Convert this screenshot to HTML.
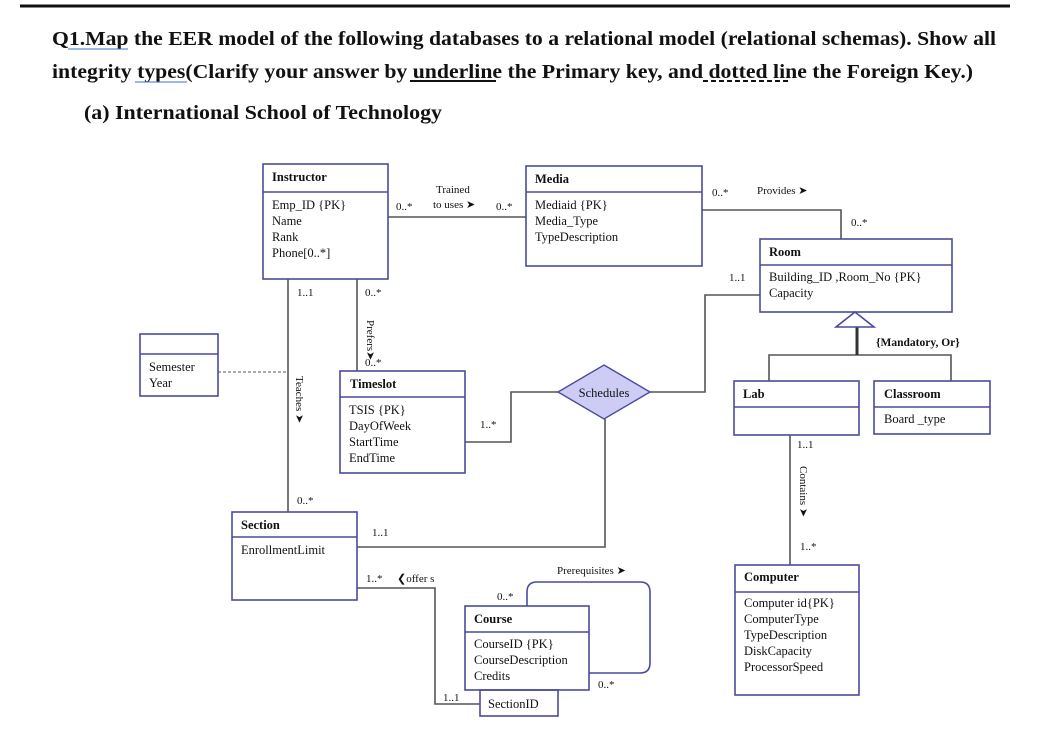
<!DOCTYPE html>
<html><head><meta charset="utf-8"><style>
html,body{margin:0;padding:0;background:#fff;}
svg{display:block;}
text{font-family:"Liberation Serif",serif;fill:#111;}
.t{font-weight:bold;font-size:20px;}
.n{font-size:12.5px;}
.b{font-size:12.5px;font-weight:bold;}
.e{fill:none;stroke:#4a4aa0;stroke-width:1.6;}
.l{fill:none;stroke:#555;stroke-width:1.6;}
</style></head><body>
<svg width="1062" height="744" viewBox="0 0 1062 744">
<line x1="20" y1="6" x2="1010" y2="6" stroke="#111" stroke-width="3"/>
<text class="t" x="52" y="45" textLength="944" lengthAdjust="spacingAndGlyphs">Q1.Map the EER model of the following databases to a relational model (relational schemas). Show all</text>
<text class="t" x="52" y="78" textLength="921" lengthAdjust="spacingAndGlyphs">integrity types(Clarify your answer by underline the Primary key, and dotted line the Foreign Key.)</text>
<line x1="68" y1="49" x2="128" y2="49" stroke="#3a6fd0" stroke-width="1"/>
<line x1="135" y1="82" x2="187" y2="82" stroke="#3a6fd0" stroke-width="1"/>
<line x1="410" y1="81" x2="496" y2="81" stroke="#111" stroke-width="2"/>
<line x1="703" y1="81" x2="791" y2="81" stroke="#111" stroke-width="2" stroke-dasharray="5,3"/>
<text class="t" x="84" y="119" textLength="358" lengthAdjust="spacingAndGlyphs">(a) International School of Technology</text>

<!-- connectors -->
<g class="l">
<line x1="388" y1="217" x2="526" y2="217"/>
<polyline points="702,210 841,210 841,239"/>
<line x1="288" y1="279" x2="288" y2="512"/>
<line x1="357" y1="279" x2="357" y2="371"/>
<polyline points="465,442 511,442 511,392 558,392"/>
<polyline points="760,295 705,295 705,392 650,392"/>
<polyline points="605,419 605,547 357,547"/>
<polyline points="357,588 435,588 435,704 480,704"/>
<line x1="790" y1="435" x2="790" y2="565"/>
<polyline points="769,381 769,355 951,355 951,381"/>
</g>
<line x1="218" y1="372" x2="288" y2="372" stroke="#555" stroke-width="1" stroke-dasharray="3,2"/>
<line x1="857" y1="327" x2="857" y2="355" stroke="#333" stroke-width="3"/>
<polygon points="855,312 836,327 874,327" fill="#fff" stroke="#4a4aa0" stroke-width="1.6"/>
<path class="e" d="M527,606 V592 Q527,582 537,582 H640 Q650,582 650,592 V663 Q650,673 640,673 H589"/>
<polygon points="604,365 650,392 604,419 558,392" fill="#ccccf5" stroke="#4a4aa0" stroke-width="1.4"/>
<text class="n" x="604" y="397" text-anchor="middle" font-size="12">Schedules</text>

<!-- entities -->
<g class="e">
<rect x="263" y="164" width="125" height="115"/><line x1="263" y1="192" x2="388" y2="192"/>
<rect x="526" y="166" width="176" height="100"/><line x1="526" y1="192" x2="702" y2="192"/>
<rect x="760" y="239" width="192" height="73"/><line x1="760" y1="265" x2="952" y2="265"/>
<rect x="140" y="334" width="78" height="62"/><line x1="140" y1="354" x2="218" y2="354"/>
<rect x="340" y="371" width="125" height="102"/><line x1="340" y1="397" x2="465" y2="397"/>
<rect x="734" y="381" width="125" height="54"/><line x1="734" y1="407" x2="859" y2="407"/>
<rect x="874" y="381" width="116" height="53"/><line x1="874" y1="407" x2="990" y2="407"/>
<rect x="232" y="512" width="125" height="88"/><line x1="232" y1="537" x2="357" y2="537"/>
<rect x="735" y="565" width="124" height="130"/><line x1="735" y1="592" x2="859" y2="592"/>
<rect x="465" y="606" width="124" height="84"/><line x1="465" y1="632" x2="589" y2="632"/>
<rect x="480" y="690" width="78" height="26"/>
</g>

<text class="b" x="272" y="181">Instructor</text>
<text class="n" x="272" y="209">Emp_ID {PK}</text>
<text class="n" x="272" y="225">Name</text>
<text class="n" x="272" y="241">Rank</text>
<text class="n" x="272" y="257">Phone[0..*]</text>

<text class="b" x="535" y="183">Media</text>
<text class="n" x="535" y="209">Mediaid  {PK}</text>
<text class="n" x="535" y="225">Media_Type</text>
<text class="n" x="535" y="241">TypeDescription</text>

<text class="b" x="769" y="256">Room</text>
<text class="n" x="769" y="281">Building_ID ,Room_No {PK}</text>
<text class="n" x="769" y="297">Capacity</text>

<text class="n" x="149" y="371">Semester</text>
<text class="n" x="149" y="387">Year</text>

<text class="b" x="350" y="388">Timeslot</text>
<text class="n" x="349" y="414">TSIS {PK}</text>
<text class="n" x="349" y="430">DayOfWeek</text>
<text class="n" x="349" y="446">StartTime</text>
<text class="n" x="349" y="462">EndTime</text>

<text class="b" x="743" y="398">Lab</text>
<text class="b" x="884" y="398">Classroom</text>
<text class="n" x="884" y="423">Board _type</text>

<text class="b" x="241" y="529">Section</text>
<text class="n" x="241" y="554">EnrollmentLimit</text>

<text class="b" x="744" y="581">Computer</text>
<text class="n" x="744" y="607">Computer  id{PK}</text>
<text class="n" x="744" y="623">ComputerType</text>
<text class="n" x="744" y="639">TypeDescription</text>
<text class="n" x="744" y="655">DiskCapacity</text>
<text class="n" x="744" y="671">ProcessorSpeed</text>

<text class="b" x="474" y="623">Course</text>
<text class="n" x="474" y="648">CourseID {PK}</text>
<text class="n" x="474" y="664">CourseDescription</text>
<text class="n" x="474" y="680">Credits</text>
<text class="n" x="488" y="708">SectionID</text>

<!-- labels -->
<g class="n" font-size="11">
<text x="396" y="210" font-size="11">0..*</text>
<text x="436" y="193" font-size="11">Trained</text>
<text x="433" y="208" font-size="11">to uses ➤</text>
<text x="496" y="210" font-size="11">0..*</text>
<text x="712" y="196" font-size="11">0..*</text>
<text x="757" y="194" font-size="11">Provides ➤</text>
<text x="851" y="226" font-size="11">0..*</text>
<text x="729" y="281" font-size="11">1..1</text>
<text x="876" y="346" font-size="11.5" font-weight="bold">{Mandatory, Or}</text>
<text x="297" y="296" font-size="11">1..1</text>
<text x="365" y="296" font-size="11">0..*</text>
<text x="365" y="366" font-size="11">0..*</text>
<text x="480" y="428" font-size="11">1..*</text>
<text x="297" y="504" font-size="11">0..*</text>
<text x="372" y="536" font-size="11">1..1</text>
<text x="366" y="582" font-size="11">1..*</text>
<text x="397" y="582" font-size="11">❮offer s</text>
<text x="557" y="574" font-size="11">Prerequisites ➤</text>
<text x="497" y="600" font-size="11">0..*</text>
<text x="598" y="688" font-size="11">0..*</text>
<text x="443" y="701" font-size="11">1..1</text>
<text x="797" y="448" font-size="11">1..1</text>
<text x="800" y="550" font-size="11">1..*</text>
<text font-size="11" transform="translate(367,320) rotate(90)">Prefers➤</text>
<text font-size="11" transform="translate(296,376) rotate(90)">Teaches ➤</text>
<text font-size="11" transform="translate(800,466) rotate(90)">Contains ➤</text>
</g>
</svg>
</body></html>
